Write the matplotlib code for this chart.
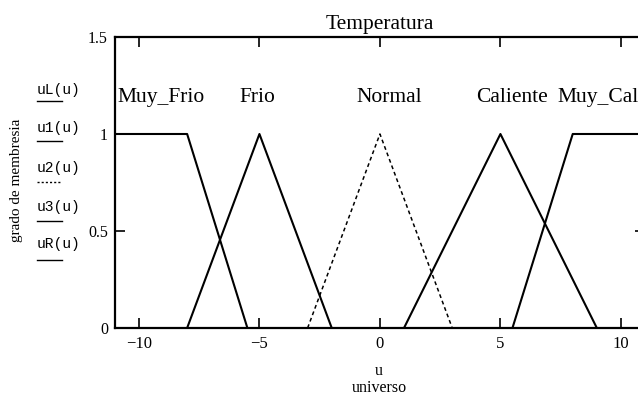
import matplotlib.pyplot as plt
from matplotlib.lines import Line2D

plt.rcParams['font.family'] = ['Liberation Serif', 'DejaVu Serif']

# membership functions (corner points)
muy_frio_x = [-11, -8, -5.5]
muy_frio_y = [1, 1, 0]
frio_x = [-8, -5, -2]
frio_y = [0, 1, 0]
normal_x = [-3, 0, 3]
normal_y = [0, 1, 0]
caliente_x = [1, 5, 9]
caliente_y = [0, 1, 0]
muy_cal_x = [5.5, 8, 11]
muy_cal_y = [0, 1, 1]

set_names = ['Muy_Frio', 'Frio', 'Normal', 'Caliente', 'Muy_Caliente']
name_x = [-10.9, -5.1, 0.37, 5.5, 7.35]
name_ha = ['left', 'center', 'center', 'center', 'left']

legend_names = ['uL(u)', 'u1(u)', 'u2(u)', 'u3(u)', 'uR(u)']
legend_styles = ['-', '-', (0, (1.5, 1.5)), '-', '-']

xticks = [-10, -5, 0, 5, 10]
xtick_labels = ['\u221210', '\u22125', '0', '5', '10']
yticks = [0, 0.5, 1, 1.5]
ytick_labels = ['0', '0.5', '1', '1.5']

fig = plt.figure(figsize=(6.38, 3.98), dpi=100)
ax = fig.add_axes([0.180, 0.176, 0.831, 0.731])

lw = 1.5
ax.plot(muy_frio_x, muy_frio_y, color='black', lw=lw)
ax.plot(frio_x, frio_y, color='black', lw=lw)
ax.plot(normal_x, normal_y, color='black', lw=1.1, linestyle=(0, (2.5, 2)))
ax.plot(caliente_x, caliente_y, color='black', lw=lw)
ax.plot(muy_cal_x, muy_cal_y, color='black', lw=lw)

for name, xp, ha in zip(set_names, name_x, name_ha):
    ax.text(xp, 1.19, name, ha=ha, va='center', fontsize=15.5, clip_on=False)

ax.set_xlim(-11, 11)
ax.set_ylim(0, 1.5)
ax.set_xticks(xticks)
ax.set_xticklabels(xtick_labels, fontsize=12)
ax.set_yticks(yticks)
ax.set_yticklabels(ytick_labels, fontsize=11.5)
ax.tick_params(direction='in', length=7, width=1.2, top=True, right=True, pad=6)
ax.tick_params(axis='y', pad=5)
for s in ax.spines.values():
    s.set_linewidth(1.6)

ax.set_title('Temperatura', fontsize=15.5, pad=6)

fig.text(17 / 638, 1 - 180 / 398, 'grado de membresia', rotation=90,
         ha='center', va='center', fontsize=11)
fig.text(379 / 638, 1 - 371 / 398, 'u', ha='center', va='center', fontsize=11.5)
fig.text(379 / 638, 1 - 388 / 398, 'universo', ha='center', va='center', fontsize=11.5)

# stacked curve names on the left
leg_text_y = [90, 128, 168, 207, 244]
leg_line_y = [101, 141, 182, 221, 260]
for name, ty, ly, st in zip(legend_names, leg_text_y, leg_line_y, legend_styles):
    fig.text(37 / 638, 1 - ty / 398, name, ha='left', va='center', fontsize=10.5,
             family=['Liberation Mono', 'DejaVu Sans Mono'])
    fig.add_artist(Line2D([37 / 638, 62 / 638], [1 - ly / 398, 1 - ly / 398],
                          color='black', lw=1.0, linestyle=st,
                          transform=fig.transFigure))

fig.savefig('out.png', dpi=100)
